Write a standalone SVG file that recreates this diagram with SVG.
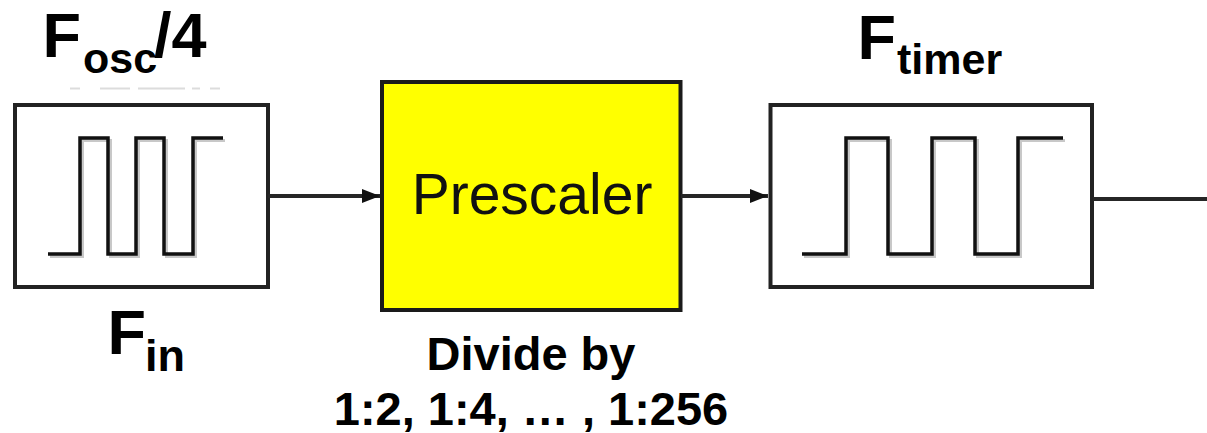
<svg xmlns="http://www.w3.org/2000/svg" width="1207" height="433" viewBox="0 0 1207 433">
  <style>
    .box { fill: #ffffff; stroke: #222222; stroke-width: 4; }
    .pre { fill: #ffff00; stroke: #1a1a1a; stroke-width: 4; }
    .wave { fill: none; stroke: #111111; stroke-width: 3.5; stroke-linejoin: miter; }
    .waveShade { fill: none; stroke: #c8c8c8; stroke-width: 3; }
    .wire { fill: none; stroke: #262626; stroke-width: 4; }
    .lbl { font-family: "Liberation Sans", Arial, sans-serif; font-weight: bold; fill: #000000; }
    .big { font-size: 63px; }
    .sub { font-size: 43px; }
    .note { font-family: "Liberation Sans", Arial, sans-serif; font-weight: bold; font-size: 47px; fill: #000000; text-anchor: middle; }
    .title { font-family: "Liberation Sans", Arial, sans-serif; font-size: 57px; fill: #111111; text-anchor: middle; }
    .ghost { stroke: #dcdcdc; stroke-width: 2; }
  </style>
  <defs>
    <marker id="arrow" markerUnits="userSpaceOnUse" markerWidth="20" markerHeight="16" refX="18" refY="7" orient="auto">
      <path d="M0,0 L18,7 L0,14 Z" fill="#111111"/>
    </marker>
  </defs>

  <!-- input clock source -->
  <g id="fin-source">
    <rect class="box" x="15" y="105" width="253" height="182"/>
    <path class="waveShade" d="M50 256.5 H82.5 V140.5 H110.5 V256.5 H138.5 V140.5 H166.5 V256.5 H195.5 V140.5 H225"/>
    <path class="wave" d="M48 254 H80 V138 H108 V254 H136 V138 H164 V254 H193 V138 H223"/>
    <g class="ghost">
      <line x1="70" y1="88.5" x2="80" y2="88.5"/>
      <line x1="100" y1="88.5" x2="130" y2="88.5"/>
      <line x1="138" y1="88.5" x2="185" y2="88.5"/>
      <line x1="192" y1="88.5" x2="200" y2="88.5"/>
      <line x1="210" y1="88.5" x2="220" y2="88.5"/>
    </g>
    <text class="lbl big" x="42.5" y="57">F<tspan class="sub" x="83" y="73">osc</tspan><tspan x="154" y="57">/4</tspan></text>
    <text class="lbl big" x="107.5" y="354">F<tspan class="sub" x="145" y="371" style="font-size:45px">in</tspan></text>
  </g>

  <!-- prescaler block -->
  <g id="prescaler">
    <rect class="pre" x="382" y="82" width="298.5" height="228"/>
    <text class="title" x="532" y="214">Prescaler</text>
    <text class="note" x="531" y="370">Divide by</text>
    <text class="note" x="531" y="425">1:2, 1:4, … , 1:256</text>
  </g>

  <!-- timer clock output -->
  <g id="ftimer-output">
    <rect class="box" x="770.5" y="105" width="321.5" height="182"/>
    <path class="waveShade" d="M804 256.5 H848.5 V140.5 H890.5 V256.5 H934.5 V140.5 H977.5 V256.5 H1020.5 V140.5 H1065"/>
    <path class="wave" d="M802 254 H846 V138 H888 V254 H932 V138 H975 V254 H1018 V138 H1063"/>
    <text class="lbl big" x="857.5" y="59">F<tspan class="sub" x="897" y="74">timer</tspan></text>
  </g>

  <!-- signal path -->
  <g id="connectors">
    <line class="wire" x1="268" y1="196" x2="380" y2="196" marker-end="url(#arrow)"/>
    <line class="wire" x1="681" y1="196" x2="768" y2="196" marker-end="url(#arrow)"/>
    <line class="wire" x1="1093" y1="199" x2="1207" y2="199"/>
  </g>
</svg>
